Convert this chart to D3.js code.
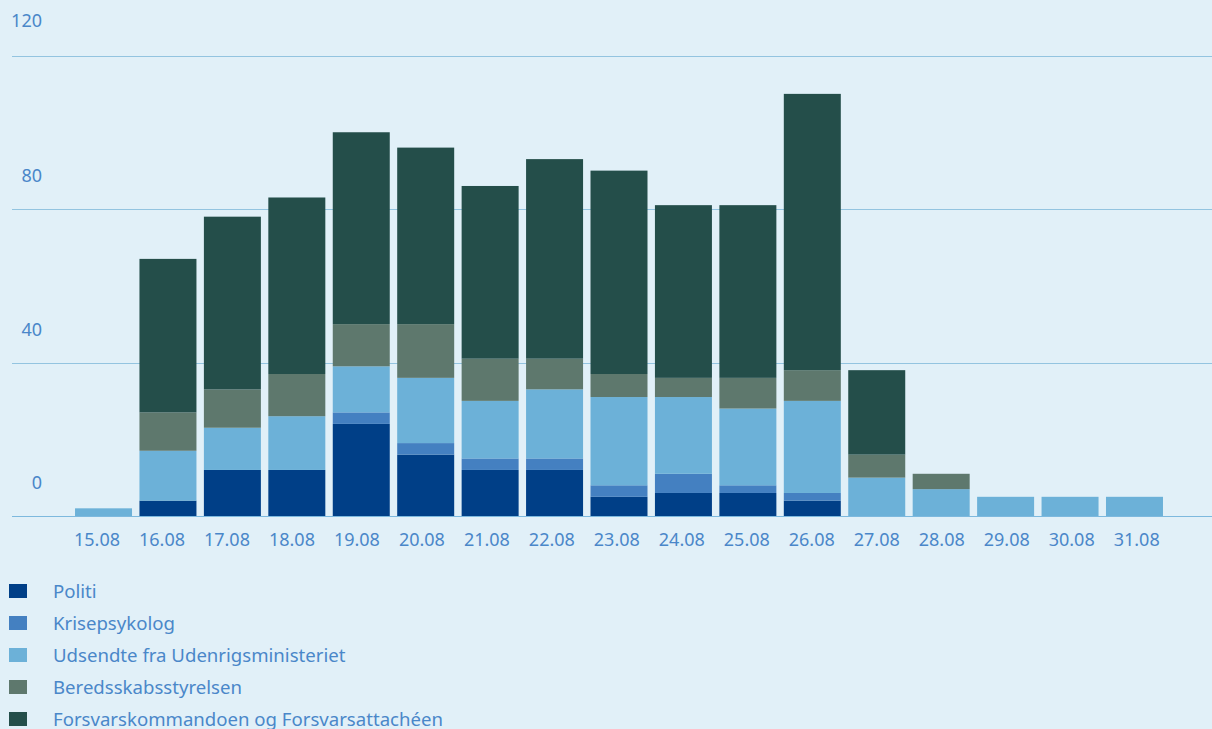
<!DOCTYPE html>
<html>
<head>
<meta charset="utf-8">
<script src="https://cdn.jsdelivr.net/npm/d3@7"></script>
<style>
  html, body { margin: 0; padding: 0; background: #e1f0f8; }
  svg { display: block; font-family: "Noto Sans", "Open Sans", sans-serif; }
</style>
</head>
<body>
<svg id="chart" width="1212" height="729"></svg>
<script>
const dates = ["15.08","16.08","17.08","18.08","19.08","20.08","21.08","22.08","23.08","24.08","25.08","26.08","27.08","28.08","29.08","30.08","31.08"];
const politi    = [0, 4, 12, 12, 24, 16, 12, 12, 5, 6, 6, 4, 0, 0, 0, 0, 0];
const krise     = [0, 0, 0, 0, 3, 3, 3, 3, 3, 5, 2, 2, 0, 0, 0, 0, 0];
const udsendte  = [2, 13, 11, 14, 12, 17, 15, 18, 23, 20, 20, 24, 10, 7, 5, 5, 5];
const beredskab = [0, 10, 10, 11, 11, 14, 11, 8, 6, 5, 8, 8, 6, 4, 0, 0, 0];
const forsvar   = [0, 40, 45, 46, 50, 46, 45, 52, 53, 45, 45, 72, 22, 0, 0, 0, 0];
const seriesNames = ["Politi", "Krisepsykolog", "Udsendte fra Udenrigsministeriet", "Beredsskabsstyrelsen", "Forsvarskommandoen og Forsvarsattachéen"];
const yTicks = [0, 40, 80, 120];

const colors = ["#003f87", "#4480c1", "#6cb1d8", "#5e786d", "#244e4a"];
const textColor = "#4a87c9";

const table = dates.map((d, i) => ({
  date: d,
  s0: politi[i], s1: krise[i], s2: udsendte[i], s3: beredskab[i], s4: forsvar[i]
}));
const keys = ["s0", "s1", "s2", "s3", "s4"];
const stacked = d3.stack().keys(keys)(table);

const svg = d3.select("#chart");

const y = d3.scaleLinear().domain([0, 120]).range([516, 55.5]);
const x = d3.scaleBand().domain(dates).range([71.3, 1166.7]).paddingInner(0.1155).paddingOuter(0.0578);
const xLab = d3.scalePoint().domain(dates).range([97, 1136.7]);

// gridlines
svg.append("g").selectAll("line").data(yTicks).join("line")
  .attr("x1", 12).attr("x2", 1212)
  .attr("y1", d => Math.round(y(d)) + 0.5).attr("y2", d => Math.round(y(d)) + 0.5)
  .attr("stroke", d => d === 0 ? "#7db9de" : "#93c4e0").attr("stroke-width", 1);

// y labels
svg.append("g").selectAll("text").data(yTicks).join("text")
  .attr("x", 42).attr("y", d => y(d) - (d === 120 ? 29 : 27))
  .attr("text-anchor", "end")
  .attr("font-size", 18).attr("fill", textColor)
  .text(d => d);

// bars
svg.append("g").selectAll("g").data(stacked).join("g")
  .attr("fill", (d, i) => colors[i])
  .selectAll("rect").data(d => d).join("rect")
  .attr("x", d => x(d.data.date))
  .attr("width", x.bandwidth())
  .attr("y", d => y(d[1]))
  .attr("height", d => Math.max(0, y(d[0]) - y(d[1])));

// x labels
svg.append("g").selectAll("text").data(dates).join("text")
  .attr("x", d => xLab(d)).attr("y", 546)
  .attr("text-anchor", "middle")
  .attr("font-size", 18).attr("fill", textColor)
  .text(d => d);

// legend
const leg = svg.append("g").selectAll("g").data(seriesNames).join("g")
  .attr("transform", (d, i) => `translate(0, ${591 + i * 32})`);
leg.append("rect").attr("x", 9).attr("y", -7).attr("width", 18).attr("height", 14)
  .attr("fill", (d, i) => colors[i]);
leg.append("text").attr("x", 53).attr("y", 6.5)
  .attr("font-size", 18.6).attr("fill", textColor)
  .text(d => d);
</script>
</body>
</html>
